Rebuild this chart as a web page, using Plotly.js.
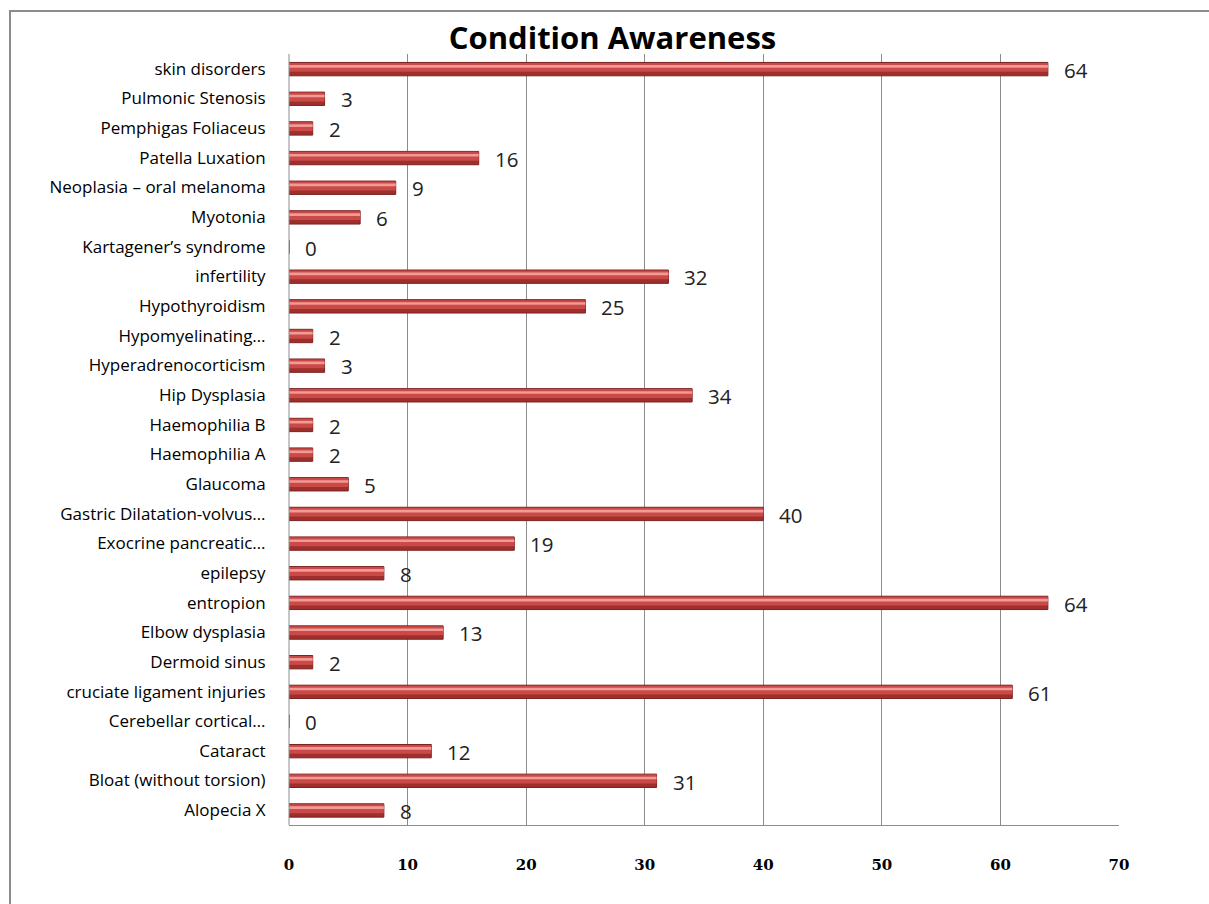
<!DOCTYPE html>
<html>
<head>
<meta charset="utf-8">
<script src="https://cdn.plot.ly/plotly-3.0.1.min.js"></script>
<style>
html,body{margin:0;padding:0;background:#fff;}
#chart{width:1209px;height:904px;}
</style>
</head>
<body>
<div id="chart"></div>
<script>
var categories = [
  "Alopecia X",
  "Bloat (without torsion)",
  "Cataract",
  "Cerebellar cortical…",
  "cruciate ligament injuries",
  "Dermoid sinus",
  "Elbow dysplasia",
  "entropion",
  "epilepsy",
  "Exocrine pancreatic…",
  "Gastric Dilatation-volvus…",
  "Glaucoma",
  "Haemophilia A",
  "Haemophilia B",
  "Hip Dysplasia",
  "Hyperadrenocorticism",
  "Hypomyelinating…",
  "Hypothyroidism",
  "infertility",
  "Kartagener’s syndrome",
  "Myotonia",
  "Neoplasia – oral melanoma",
  "Patella Luxation",
  "Pemphigas Foliaceus",
  "Pulmonic Stenosis",
  "skin disorders"
];
var values = [8, 31, 12, 0, 61, 2, 13, 64, 8, 19, 40, 5, 2, 2, 34, 3, 2, 25, 32, 0, 6, 9, 16, 2, 3, 64];
var xTicks = [0, 10, 20, 30, 40, 50, 60, 70];
var chartTitle = "Condition Awareness";

var baseBar = {
  type: 'bar', orientation: 'h', x: values, y: categories,
  width: 0.45, offset: -0.235,
  marker: {color: '#9E2F2C', line: {color: '#7A2220', width: 1}},
  hoverinfo: 'x+y', showlegend: false
};
var midBar = {
  type: 'bar', orientation: 'h', x: values, y: categories,
  width: 0.3, offset: -0.1,
  marker: {color: '#C94A47', line: {width: 0}},
  hoverinfo: 'skip', showlegend: false
};
var hiBar = {
  type: 'bar', orientation: 'h', x: values, y: categories,
  width: 0.09, offset: 0.04,
  marker: {color: '#F29A96', line: {width: 0}},
  hoverinfo: 'skip', showlegend: false
};

var annotations = categories.map(function (c, i) {
  return {
    x: values[i], y: c, xref: 'x', yref: 'y',
    text: String(values[i]), showarrow: false,
    xanchor: 'left', yanchor: 'middle', xshift: 14, yshift: -1,
    font: {family: '"Open Sans", sans-serif', size: 20.5, color: '#222'}
  };
});

var layout = {
  width: 1209, height: 904,
  margin: {l: 289, r: 90, t: 54, b: 79, pad: 0},
  paper_bgcolor: '#fff', plot_bgcolor: '#fff',
  barmode: 'overlay',
  title: {
    text: '<b>' + chartTitle + '</b>',
    x: 0.5066, xanchor: 'center', y: 0.958, yanchor: 'middle',
    font: {family: '"Open Sans", sans-serif', size: 31, color: '#000'}
  },
  xaxis: {
    range: [0, 70], tickvals: xTicks, ticktext: xTicks.map(String),
    showgrid: true, gridcolor: '#8c8c8c', gridwidth: 1,
    zeroline: false, showline: true, linecolor: '#8c8c8c', linewidth: 1,
    mirror: false,
    ticks: 'outside', ticklen: 26, tickcolor: 'rgba(0,0,0,0)',
    tickfont: {family: '"DejaVu Serif", serif', size: 15, color: '#000', weight: 'bold'},
    fixedrange: true
  },
  yaxis: {
    type: 'category', categoryorder: 'array', categoryarray: categories,
    range: [-0.5, categories.length - 0.5],
    showgrid: false, zeroline: false, showline: false,
    ticks: 'outside', ticklen: 19, tickcolor: 'rgba(0,0,0,0)',
    tickfont: {family: '"Open Sans", sans-serif', size: 17, color: '#000'},
    automargin: false, fixedrange: true
  },
  annotations: annotations,
  shapes: [
    {type: 'rect', xref: 'paper', yref: 'paper',
     x0: (10 - 289) / 830, x1: (1240 - 289) / 830,
     y0: (825 - 930) / 771, y1: 1 + (54 - 11) / 771,
     line: {color: '#8c8c8c', width: 2}, fillcolor: 'rgba(0,0,0,0)', layer: 'below'},
    {type: 'line', xref: 'paper', yref: 'paper', x0: 0, x1: 0, y0: 0, y1: 1,
     line: {color: '#8c8c8c', width: 1}}
  ]
};

Plotly.newPlot('chart', [baseBar, midBar, hiBar], layout, {displayModeBar: false, staticPlot: true});
</script>
</body>
</html>
